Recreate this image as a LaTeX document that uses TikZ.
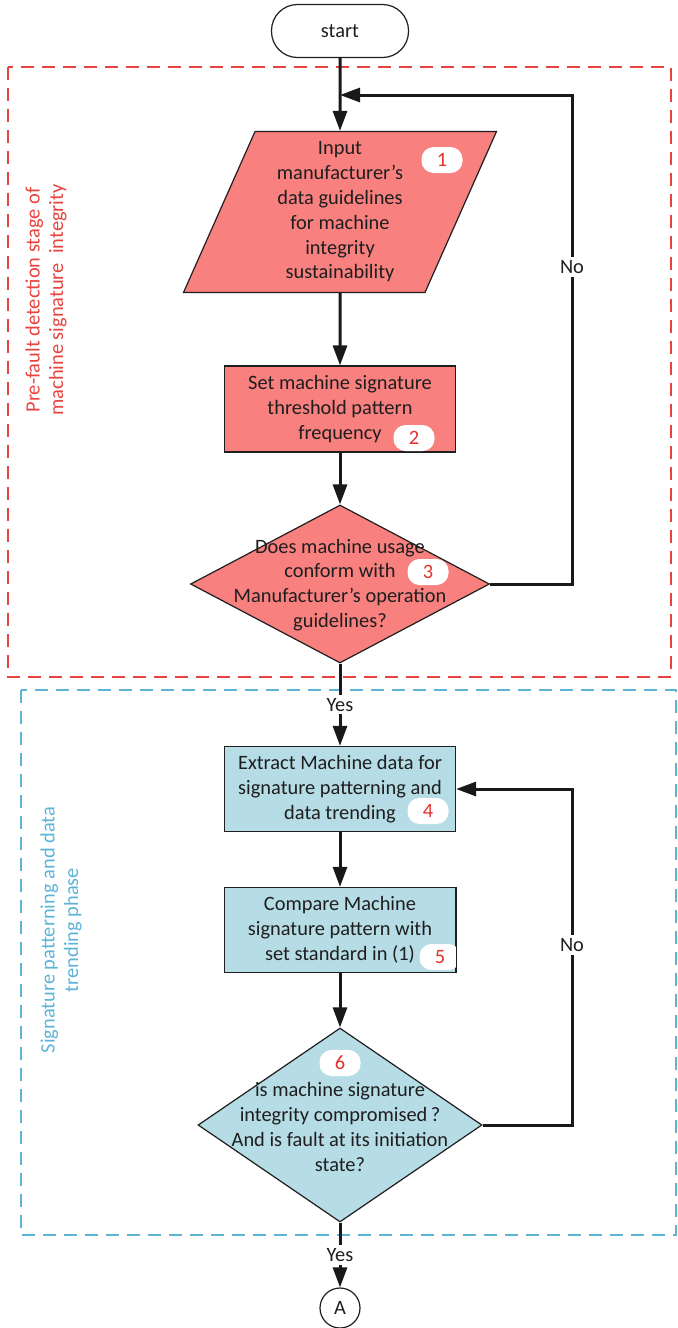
\documentclass[tikz,border=0pt]{standalone}
\usepackage{fontspec}
\setmainfont{Carlito}
\usetikzlibrary{arrows.meta,positioning,shapes.geometric}
\definecolor{StageRed}{HTML}{F8807F}
\definecolor{StageBlue}{HTML}{B6DCE6}
\definecolor{FrameRed}{HTML}{E8443F}
\definecolor{FrameBlue}{HTML}{5EB4D6}
\definecolor{TagRed}{HTML}{E2322B}
\definecolor{InkGray}{HTML}{1E1E1E}
\tikzset{
  base/.style={font=\fontsize{10.2}{12.4}\selectfont,text=InkGray,align=center},
  procbox/.style={base,draw=InkGray,line width=0.6pt,minimum width=115.5pt,minimum height=42.5pt,inner sep=0pt},
  inbox/.style={base,trapezium,trapezium left angle=63,trapezium right angle=117,trapezium stretches body,draw=InkGray,line width=0.6pt,fill=StageRed,minimum width=156.5pt,minimum height=80.5pt,inner sep=0pt},
  decide/.style={diamond,draw=InkGray,line width=0.6pt,inner sep=0pt},
  term/.style={base,draw=InkGray,line width=0.6pt,rounded corners=13pt,minimum width=68.5pt,minimum height=26.5pt},
  tag/.style={font=\fontsize{10.2}{12.4}\selectfont,text=TagRed,fill=white,rounded corners=6pt,minimum width=20.5pt,minimum height=13pt,inner sep=0pt},
  lbl/.style={base,fill=white,inner sep=1.5pt},
  frame/.style={dashed,dash pattern=on 6.5pt off 4pt,line width=0.6pt},
  stagelbl/.style={font=\fontsize{10.2}{11.8}\selectfont,align=center,rotate=90},
  arr/.style={-{Triangle[length=10pt,width=7pt]},line width=1.5pt,draw=black!90}
}
\begin{document}
\begin{tikzpicture}[x=0.5pt,y=-0.5pt]
\useasboundingbox (0,0) rectangle (677,1328);
% stage frames
\draw[frame,FrameRed] (8,67) rectangle (671,677);
\draw[frame,FrameBlue] (21,690) rectangle (676,1235);
\node[stagelbl,text=FrameRed] (stageA) at (46,300) {Pre-fault detection stage of\\machine signature\ \ integrity};
\node[stagelbl,text=FrameBlue] (stageB) at (61,930) {Signature patterning and data\\trending phase};
% pre-fault stage
\node[term] (start) at (340,31) {start};
\node[inbox] (input) at (340,212) {Input\\manufacturer’s\\data guidelines\\for machine\\integrity\\sustainability};
\node[procbox,fill=StageRed,minimum height=43pt] (thresh) at (340,409) {Set machine signature\\threshold pattern\\frequency};
\node[decide,fill=StageRed,minimum width=149.5pt,minimum height=79pt] (conform) at (340,584) {};
\node[base] (conformtxt) at (340,585) {Does machine usage\\conform with\\Manufacturer’s operation\\guidelines?};
% signature stage
\node[procbox,fill=StageBlue] (extract) at (340,789) {Extract Machine data for\\signature patterning and\\data trending};
\node[procbox,fill=StageBlue] (compare) at (340,930) {Compare Machine\\signature pattern with\\set standard in (1)};
\node[decide,fill=StageBlue,minimum width=142pt,minimum height=97pt] (check) at (340,1125) {};
\node[base] (checktxt) at (340,1127) {is machine signature\\integrity compromised\,?\\And is fault at its initiation\\state?};
\node[base,circle,draw=InkGray,line width=0.6pt,minimum size=20pt,inner sep=0pt] (conA) at (340,1308) {A};
% step tags
\node[tag] (tag1) at (442,160) {1};
\node[tag] (tag2) at (414,438) {2};
\node[tag] (tag3) at (428,572) {3};
\node[tag] (tag4) at (428,811) {4};
\node[tag] (tag5) at (440,957) {5};
\node[tag] (tag6) at (340,1063) {6};
\draw[line width=0.6pt,InkGray] (compare.north east) -- (compare.south east);
% connectors
\coordinate (merge1) at (340,95);
\coordinate (turn1) at (572,95);
\coordinate (turn2) at (572,789);
\draw[arr] (start) -- (input);
\draw[arr] (input) -- (thresh);
\draw[arr] (thresh) -- (conform);
\draw[arr] (conform.east) -| (turn1) -- (merge1);
\draw[arr] (conform) -- node[lbl] (yes1) {Yes} (extract);
\draw[arr] (extract) -- (compare);
\draw[arr] (compare) -- (check);
\draw[arr] (check.east) -| (turn2) -- (extract.east);
\draw[arr] (check) -- node[lbl] (yes2) {Yes} (conA);
\node[lbl] (no1) at (572,267) {No};
\node[lbl] (no2) at (572,945) {No};
\end{tikzpicture}
\end{document}
